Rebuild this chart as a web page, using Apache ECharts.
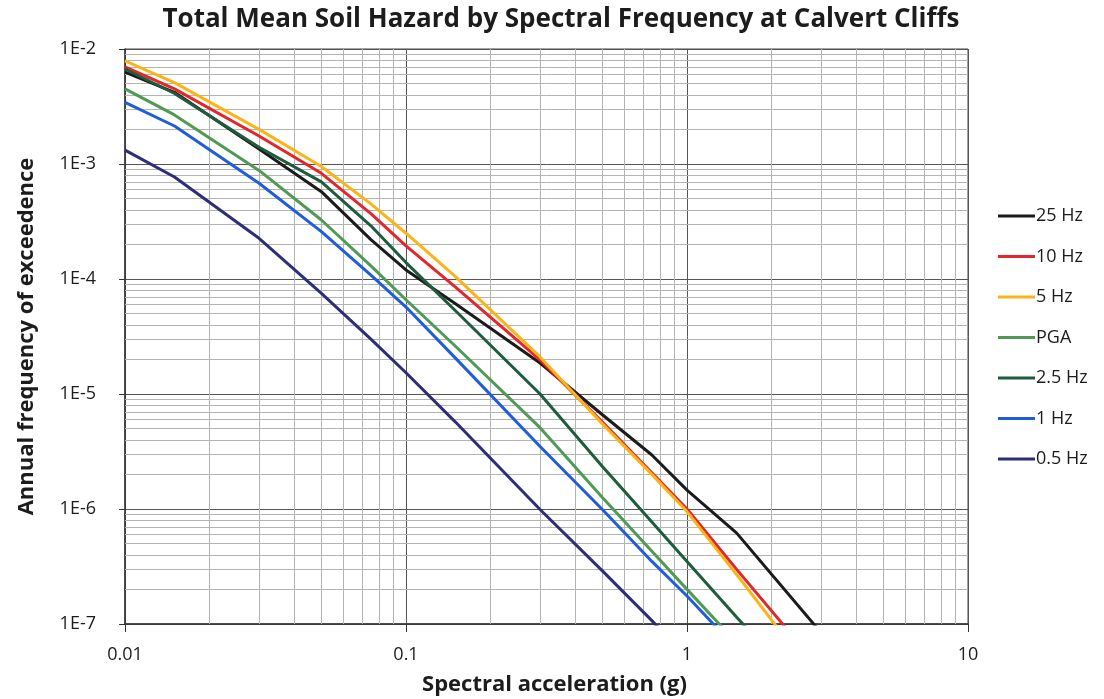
<!DOCTYPE html>
<html>
<head>
<meta charset="utf-8">
<script src="https://cdn.jsdelivr.net/npm/echarts@6/dist/echarts.min.js"></script>
<style>
html,body{margin:0;padding:0;background:#fff;}
#chart{width:1104px;height:699px;}
</style>
</head>
<body>
<div id="chart"></div>
<script>
// Spectral acceleration (g)
var accel = [0.01, 0.015, 0.03, 0.05, 0.075, 0.1, 0.15, 0.3, 0.5, 0.75, 1, 1.5, 3];

// Annual frequency of exceedence per series
var hz25  = [6.3e-3, 4.2e-3, 1.35e-3, 5.75e-4, 2.2e-4, 1.2e-4, 6.1e-5, 1.86e-5, 6.6e-6, 2.95e-6, 1.46e-6, 6.2e-7, 8.4e-8];
var hz10  = [7.0e-3, 4.5e-3, 1.75e-3, 8.3e-4, 3.7e-4, 1.94e-4, 8.5e-5, 1.98e-5, 5.7e-6, 2.06e-6, 1.0e-6, 3.0e-7, 4.0e-8];
var hz5   = [7.9e-3, 5.1e-3, 2.0e-3, 9.5e-4, 4.5e-4, 2.5e-4, 1.05e-4, 2.1e-5, 5.5e-6, 2.0e-6, 9.5e-7, 2.7e-7, 3.0e-8];
var pga   = [4.5e-3, 2.67e-3, 8.8e-4, 3.26e-4, 1.3e-4, 6.6e-5, 2.6e-5, 5.1e-6, 1.26e-6, 4.3e-7, 2.0e-7, 6.9e-8, 1.1e-8];
var hz2_5 = [6.7e-3, 4.1e-3, 1.4e-3, 7.0e-4, 2.9e-4, 1.39e-4, 5.3e-5, 1.0e-5, 2.34e-6, 7.7e-7, 3.5e-7, 1.15e-7, 1.8e-8];
var hz1   = [3.44e-3, 2.14e-3, 6.8e-4, 2.58e-4, 1.08e-4, 5.7e-5, 2.05e-5, 3.5e-6, 9.9e-7, 3.5e-7, 1.75e-7, 6.1e-8, 9e-9];
var hz0_5 = [1.32e-3, 7.7e-4, 2.26e-4, 7.5e-5, 3.0e-5, 1.53e-5, 5.7e-6, 9.9e-7, 2.9e-7, 1.07e-7, 5.0e-8, 1.5e-8, 2e-9];

var seriesNames = ['25 Hz', '10 Hz', '5 Hz', 'PGA', '2.5 Hz', '1 Hz', '0.5 Hz'];
var seriesValues = [hz25, hz10, hz5, pga, hz2_5, hz1, hz0_5];
var seriesColors = ['#1b1b1b', '#e3262b', '#fbb417', '#4f9a55', '#1d5c3c', '#1f5ddc', '#2e2d78'];

// Tick labels
var xTickLabels = {'-2': '0.01', '-1': '0.1', '0': '1', '1': '10'};
var yTickLabels = {'-7': '1E-7', '-6': '1E-6', '-5': '1E-5', '-4': '1E-4', '-3': '1E-3', '-2': '1E-2'};

// Axis ranges and minor grid values (2..9 within each decade)
var xRange = [0.01, 10];
var yRange = [1e-7, 1e-2];
var minorMult = [2, 3, 4, 5, 6, 7, 8, 9];
var xDecades = [0.01, 0.1, 1];
var yDecades = [1e-7, 1e-6, 1e-5, 1e-4, 1e-3];

var minorLines = [];
xDecades.forEach(function (d) { minorMult.forEach(function (m) {
  var v = +(d * m).toPrecision(3);
  minorLines.push([{coord: [v, yRange[0]]}, {coord: [v, yRange[1]]}]);
}); });
yDecades.forEach(function (d) { minorMult.forEach(function (m) {
  var v = +(d * m).toPrecision(3);
  minorLines.push([{coord: [xRange[0], v]}, {coord: [xRange[1], v]}]);
}); });

var FONT = 'Open Sans';
var series = [{
  type: 'line', name: '_grid', data: [], silent: true, z: 1,
  markLine: {
    silent: true, symbol: ['none', 'none'], animation: false,
    label: {show: false},
    lineStyle: {color: '#b4b4b4', width: 1, type: 'solid'},
    emphasis: {disabled: true},
    data: minorLines
  }
}];
seriesNames.forEach(function (n, i) {
  series.push({
    type: 'line', name: n, z: 5,
    data: accel.map(function (x, j) { return [x, seriesValues[i][j]]; }),
    showSymbol: false, symbol: 'none', smooth: false, clip: true,
    lineStyle: {color: seriesColors[i], width: 3},
    itemStyle: {color: seriesColors[i]},
    animation: false
  });
});

var chart = echarts.init(document.getElementById('chart'));
chart.setOption({
  backgroundColor: '#ffffff',
  animation: false,
  title: {
    text: 'Total Mean Soil Hazard by Spectral Frequency at Calvert Cliffs',
    left: 556, top: 2, textAlign: 'center',
    textStyle: {fontFamily: FONT, fontWeight: 'bold', fontSize: 26, color: '#1c1c1c'}
  },
  grid: {left: 125, right: 136, top: 49, bottom: 75, containLabel: false,
         outerBoundsMode: 'none',
         show: true, borderColor: '#444', borderWidth: 1},
  legend: {
    data: seriesNames, orient: 'vertical', left: 993, top: 202,
    itemWidth: 37, itemHeight: 3, itemGap: 22.5,
    icon: 'rect',
    textStyle: {fontFamily: FONT, fontSize: 18, color: '#1c1c1c', padding: [0, 0, 0, -4]},
    selectedMode: false
  },
  xAxis: {
    type: 'log', logBase: 10, min: xRange[0], max: xRange[1],
    name: 'Spectral acceleration (g)', nameLocation: 'middle', nameGap: 50,
    nameTextStyle: {fontFamily: FONT, fontWeight: 'bold', fontSize: 22, color: '#1c1c1c', padding: [0, 0, 0, 16]},
    axisLine: {show: true, lineStyle: {color: '#333', width: 1.5}},
    axisTick: {show: true, inside: false, length: 8, lineStyle: {color: '#333'}},
    axisLabel: {fontFamily: FONT, fontSize: 18, color: '#1c1c1c', margin: 22,
      formatter: function (v) { return xTickLabels[String(Math.round(Math.log10(v)))] || ''; }},
    splitLine: {show: true, lineStyle: {color: '#555', width: 1}},
    minorTick: {show: false}, minorSplitLine: {show: false}
  },
  yAxis: {
    type: 'log', logBase: 10, min: yRange[0], max: yRange[1],
    name: 'Annual frequency of exceedence', nameLocation: 'middle', nameGap: 87, nameRotate: 90,
    nameTextStyle: {fontFamily: FONT, fontWeight: 'bold', fontSize: 22, color: '#1c1c1c'},
    axisLine: {show: true, lineStyle: {color: '#333', width: 1.5}},
    axisTick: {show: true, inside: false, length: 6, lineStyle: {color: '#333'}},
    axisLabel: {fontFamily: FONT, fontSize: 18, color: '#1c1c1c', margin: 29,
      formatter: function (v) { return yTickLabels[String(Math.round(Math.log10(v)))] || ''; }},
    splitLine: {show: true, lineStyle: {color: '#555', width: 1}},
    minorTick: {show: false}, minorSplitLine: {show: false}
  },
  series: series
});
</script>
</body>
</html>
